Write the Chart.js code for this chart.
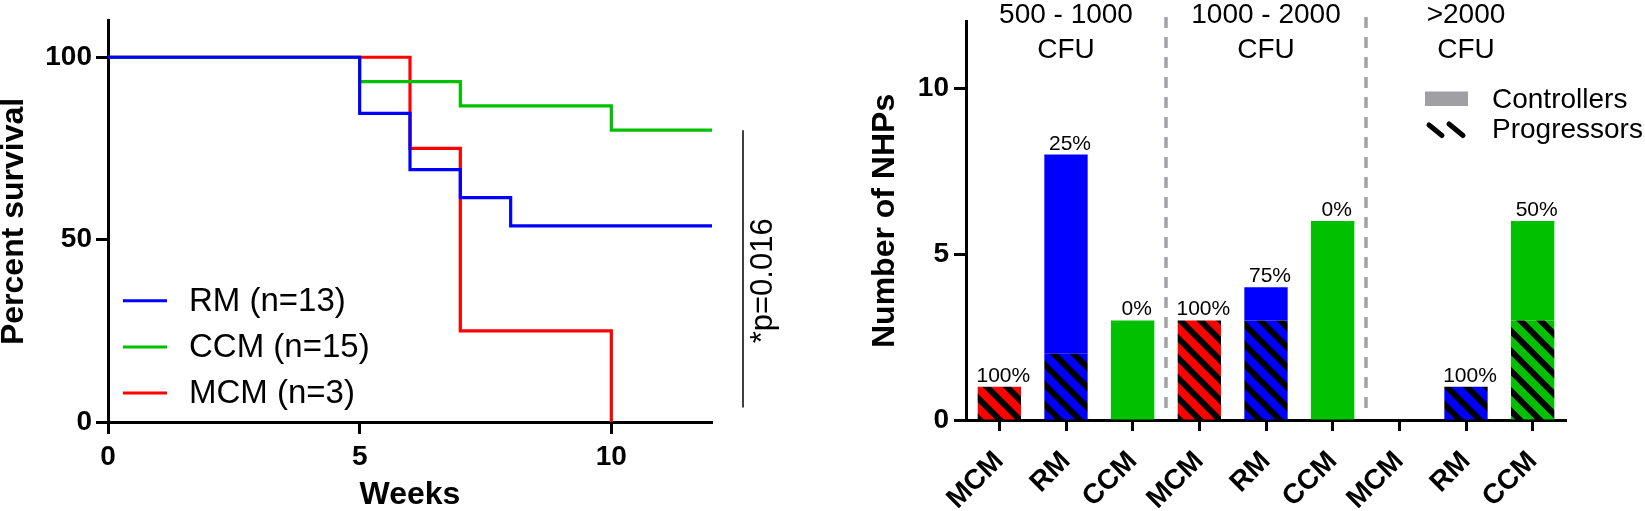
<!DOCTYPE html>
<html><head><meta charset="utf-8">
<script src="https://cdn.jsdelivr.net/npm/chart.js@4.4.1/dist/chart.umd.min.js"></script>
<style>
html,body{margin:0;padding:0;background:#fff;}
#wrap{position:relative;width:1645px;height:511px;overflow:hidden;background:#fff;}
#c1{position:absolute;left:0;top:0;}
#c2{position:absolute;left:800px;top:0;}
</style></head><body>
<div id="wrap">
<canvas id="c1" width="800" height="511"></canvas>
<canvas id="c2" width="845" height="511"></canvas>
</div>
<script>
// ---------- data: survival (left panel) ----------
const survivalSeries = ['RM (n=13)', 'CCM (n=15)', 'MCM (n=3)'];
const rmWeeks = [0, 5, 6, 7, 8, 12];
const rmSurvival = [100, 84.6, 69.2, 61.5, 53.8, 53.8];
const ccmWeeks = [0, 5, 7, 10, 12];
const ccmSurvival = [100, 93.3, 86.7, 80, 80];
const mcmWeeks = [0, 6, 7, 10];
const mcmSurvival = [100, 75, 25, 0];
const weekTicks = [0, 5, 10];
const survivalTicks = [0, 50, 100];
const pValueText = '*p=0.016';
const pValueSpan = [80, 4];

// ---------- data: NHP counts (right panel) ----------
const speciesLabels = ['MCM', 'RM', 'CCM', 'MCM', 'RM', 'CCM', 'MCM', 'RM', 'CCM'];
const totalNHPs = [1, 8, 3, 3, 4, 6, 0, 1, 6];
const progressorNHPs = [1, 2, 0, 3, 3, 0, 0, 1, 3];
const controllerNHPs = totalNHPs.map((t, i) => t - progressorNHPs[i]);
const progressorPct = ['100%', '25%', '0%', '100%', '75%', '0%', '', '100%', '50%'];
const doseGroupLines = [['500 - 1000', 'CFU'], ['1000 - 2000', 'CFU'], ['>2000', 'CFU']];
const doseGroupCenters = [1, 4, 7];
const doseGroupDividers = [2.5, 5.5];
const nhpTicks = [0, 5, 10];
const outcomeNames = ['Controllers', 'Progressors'];

// ---------- styles ----------
const FONT = "'Liberation Sans', Arial, Helvetica, sans-serif";
const speciesColor = { MCM: '#ff0000', RM: '#0000ff', CCM: '#00c000' };
const survivalColors = ['#0000ff', '#00c000', '#ff0000'];

function hatch(color) {
  const c = document.createElement('canvas');
  c.width = 20; c.height = 20;
  const g = c.getContext('2d');
  g.fillStyle = color; g.fillRect(0, 0, 20, 20);
  g.strokeStyle = '#000'; g.lineWidth = 6; g.lineCap = 'butt';
  for (let k = -1; k <= 1; k++) {
    g.beginPath(); g.moveTo(k * 20 - 6, -6); g.lineTo(k * 20 + 26, 26); g.stroke();
  }
  return g.createPattern(c, 'repeat');
}
const hatchBy = {};
Object.keys(speciesColor).forEach(k => hatchBy[k] = hatch(speciesColor[k]));

function pts(xs, ys) { return xs.map((x, i) => ({ x: x, y: ys[i] })); }

// ---------- left panel plugins ----------
const leftLegend = {
  id: 'leftLegend',
  afterDraw(chart) {
    const ctx = chart.ctx, a = chart.chartArea;
    ctx.save();
    const ys = [300.7, 347, 393];
    chart.data.datasets.forEach((ds, i) => {
      ctx.strokeStyle = ds.borderColor; ctx.lineWidth = 3;
      ctx.beginPath(); ctx.moveTo(a.left + 15, ys[i]); ctx.lineTo(a.left + 59, ys[i]); ctx.stroke();
      ctx.fillStyle = '#000'; ctx.font = '33px ' + FONT;
      ctx.textBaseline = 'middle'; ctx.textAlign = 'left';
      ctx.fillText(ds.label, a.left + 81, ys[i] + 1);
    });
    ctx.restore();
  }
};
const pValuePlugin = {
  id: 'pValue',
  afterDraw(chart) {
    const ctx = chart.ctx, xs = chart.scales.x, ys = chart.scales.y;
    const x = xs.getPixelForValue(xs.max) + 31;
    const y0 = ys.getPixelForValue(pValueSpan[0]), y1 = ys.getPixelForValue(pValueSpan[1]);
    ctx.save();
    ctx.strokeStyle = '#111'; ctx.lineWidth = 1.6;
    ctx.beginPath(); ctx.moveTo(x, y0); ctx.lineTo(x, y1); ctx.stroke();
    ctx.translate(x + 20, (y0 + y1) / 2 + 12);
    ctx.rotate(-Math.PI / 2);
    ctx.fillStyle = '#000'; ctx.font = '31px ' + FONT;
    ctx.textAlign = 'center'; ctx.textBaseline = 'middle';
    ctx.fillText(pValueText, 0, 0);
    ctx.restore();
  }
};

const axisCommon = {
  grid: { drawOnChartArea: false, drawTicks: true, tickLength: 12, tickWidth: 3, tickColor: '#000', offset: false },
  border: { display: true, width: 3, color: '#000' }
};

new Chart(document.getElementById('c1'), {
  type: 'line',
  data: {
    datasets: [
      { label: survivalSeries[0], data: pts(rmWeeks, rmSurvival), borderColor: survivalColors[0] },
      { label: survivalSeries[1], data: pts(ccmWeeks, ccmSurvival), borderColor: survivalColors[1] },
      { label: survivalSeries[2], data: pts(mcmWeeks, mcmSurvival), borderColor: survivalColors[2] }
    ].map(d => Object.assign(d, { borderWidth: 3.2, stepped: true, pointRadius: 0, fill: false, borderCapStyle: 'butt' }))
  },
  options: {
    responsive: false, animation: false, devicePixelRatio: 1,
    layout: { padding: { left: 0, top: 20, right: 88, bottom: 0 } },
    plugins: { legend: { display: false }, tooltip: { enabled: false } },
    scales: {
      x: Object.assign({
        type: 'linear', min: 0, max: 12,
        afterBuildTicks: s => { s.ticks = weekTicks.map(v => ({ value: v })); },
        afterFit: s => { s.height = 89; },
        ticks: { font: { family: FONT, size: 28, weight: 'bold' }, color: '#000', padding: 6, maxRotation: 0, autoSkip: false },
        title: { display: true, text: 'Weeks', color: '#000', font: { family: FONT, size: 32, weight: 'bold', lineHeight: 1 }, padding: { top: -4, bottom: 0 } }
      }, axisCommon),
      y: Object.assign({
        type: 'linear', min: 0, max: 110,
        afterBuildTicks: s => { s.ticks = survivalTicks.map(v => ({ value: v })); },
        afterFit: s => { s.width = 108; },
        ticks: { font: { family: FONT, size: 28, weight: 'bold' }, color: '#000', padding: 4 },
        title: { display: true, text: 'Percent survival', color: '#000', font: { family: FONT, size: 32, weight: 'bold', lineHeight: 1 }, padding: { top: -2, bottom: 0 } }
      }, axisCommon)
    }
  },
  plugins: [leftLegend, pValuePlugin]
});

// ---------- right panel plugins ----------
const rightDecor = {
  id: 'rightDecor',
  beforeDatasetsDraw(chart) {
    const ctx = chart.ctx, xs = chart.scales.x, a = chart.chartArea;
    ctx.save();
    ctx.strokeStyle = '#a3a3a7'; ctx.lineWidth = 3.5; ctx.setLineDash([11, 9]);
    doseGroupDividers.forEach(v => {
      const x = (xs.getPixelForValue(Math.floor(v)) + xs.getPixelForValue(Math.ceil(v))) / 2;
      ctx.beginPath(); ctx.moveTo(x, 17); ctx.lineTo(x, a.bottom - 3); ctx.stroke();
    });
    ctx.restore();
  },
  afterDraw(chart) {
    const ctx = chart.ctx, xs = chart.scales.x, ys = chart.scales.y, a = chart.chartArea;
    ctx.save();
    // group labels
    ctx.fillStyle = '#000'; ctx.font = '28px ' + FONT; ctx.textAlign = 'center'; ctx.textBaseline = 'alphabetic';
    doseGroupLines.forEach((lines, g) => {
      const x = xs.getPixelForValue(doseGroupCenters[g]);
      ctx.fillText(lines[0], x, 23);
      ctx.fillText(lines[1], x, 58);
    });
    // percentage labels
    ctx.font = '21px ' + FONT;
    totalNHPs.forEach((t, i) => {
      if (!progressorPct[i]) return;
      ctx.fillText(progressorPct[i], xs.getPixelForValue(i) + 4, ys.getPixelForValue(t) - 5);
    });
    // legend
    const lx = a.right - 141;
    ctx.fillStyle = '#a0a0a4';
    ctx.fillRect(lx, 91.5, 43, 14.5);
    ctx.strokeStyle = '#000'; ctx.lineWidth = 5; ctx.lineCap = 'round';
    ctx.beginPath(); ctx.moveTo(lx + 4, 125); ctx.lineTo(lx + 17, 135.5); ctx.stroke();
    ctx.beginPath(); ctx.moveTo(lx + 24, 124); ctx.lineTo(lx + 38, 135.5); ctx.stroke();
    ctx.fillStyle = '#000'; ctx.font = '28px ' + FONT; ctx.textAlign = 'left';
    ctx.fillText(outcomeNames[0], lx + 67, 107.5);
    ctx.fillText(outcomeNames[1], lx + 67, 137.5);
    ctx.restore();
  }
};

new Chart(document.getElementById('c2'), {
  type: 'bar',
  data: {
    labels: speciesLabels,
    datasets: [
      { label: outcomeNames[1], data: progressorNHPs, backgroundColor: speciesLabels.map(s => hatchBy[s]) },
      { label: outcomeNames[0], data: controllerNHPs, backgroundColor: speciesLabels.map(s => speciesColor[s]) }
    ].map(d => Object.assign(d, { borderWidth: 0, categoryPercentage: 1, barPercentage: 0.65 }))
  },
  options: {
    responsive: false, animation: false, devicePixelRatio: 1,
    layout: { padding: { left: 0, top: 20, right: 79, bottom: 0 } },
    plugins: { legend: { display: false }, tooltip: { enabled: false } },
    scales: {
      x: Object.assign({
        stacked: true,
        afterFit: s => { s.height = 91; },
        ticks: { font: { family: FONT, size: 28, weight: 'bold' }, color: '#000', padding: 14, minRotation: 45, maxRotation: 45, autoSkip: false }
      }, axisCommon, { grid: Object.assign({}, axisCommon.grid, { tickLength: 11 }) }),
      y: Object.assign({
        stacked: true, min: 0, max: 12,
        afterBuildTicks: s => { s.ticks = nhpTicks.map(v => ({ value: v })); },
        afterFit: s => { s.width = 166; },
        ticks: { font: { family: FONT, size: 28, weight: 'bold' }, color: '#000', padding: 5 },
        title: { display: true, text: 'Number of NHPs', color: '#000', font: { family: FONT, size: 32, weight: 'bold', lineHeight: 1 }, padding: { top: 69.5, bottom: 0 } }
      }, axisCommon)
    }
  },
  plugins: [rightDecor]
});
</script>
</body></html>
